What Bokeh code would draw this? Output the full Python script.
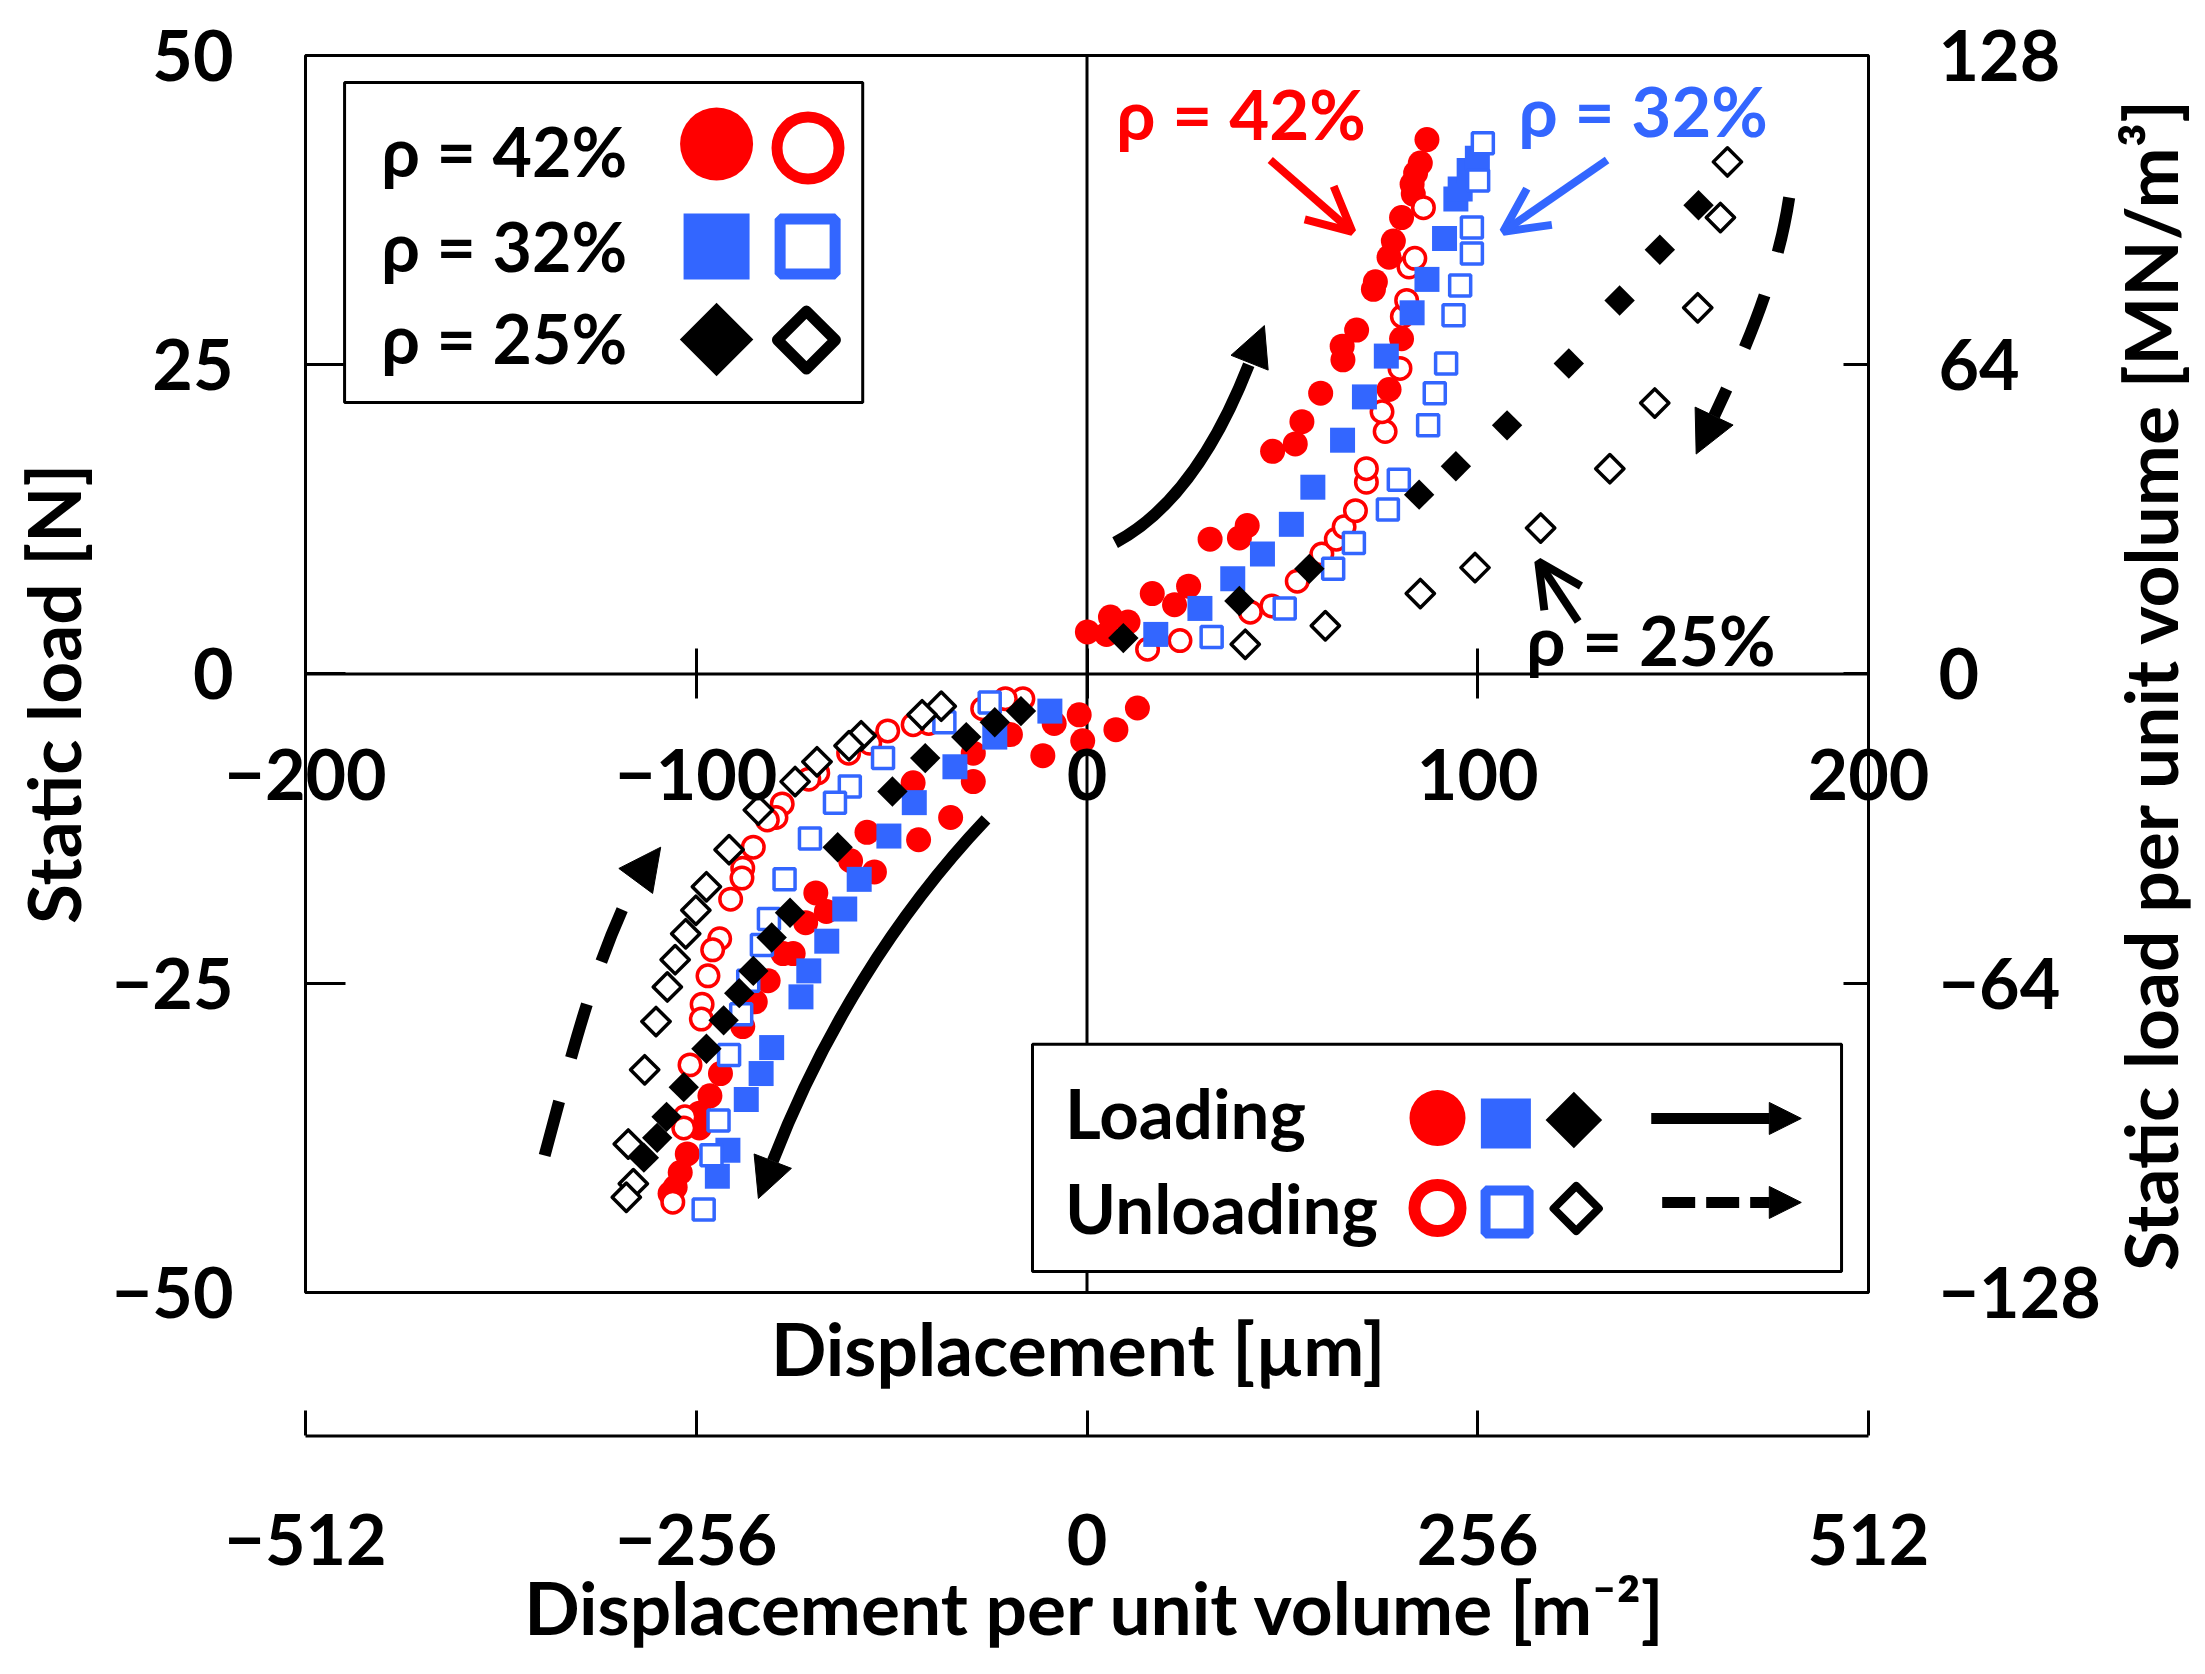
import numpy as np
from bokeh.plotting import figure
from bokeh.models import (Range1d, LinearAxis, FixedTicker, CustomJSTickFormatter,
                          BoxAnnotation, Label, Arrow, NormalHead, OpenHead)
from bokeh.embed import file_html
from bokeh.resources import INLINE

# ---------------- data (displacement [um], static load [N]) ----------------
r42_load_x = [0.1, 5.0, 6.0, 10.5, 16.7, 22.4, 26.0, 31.5, 39.0, 41.0,
              47.5, 53.3, 55.0, 59.8, 65.5, 65.3, 69.0, 73.3, 73.8, 77.3,
              80.5, 77.3, 78.4, 80.5, 83.5, 83.2, 84.1, 85.3, 87.0,
              12.9, 7.4, -1.1, -2.0, -11.3, -8.4, -19.6, -29.1, -29.1, -34.9,
              -43.1, -44.5, -56.3, -60.5, -54.4, -69.4, -66.7, -72.0, -75.2, -77.8,
              -81.6, -84.9, -88.1, -93.8, -96.5, -99.2, -99.2, -102.3, -104.1, -105.4,
              -106.7]
r42_load_y = [3.4, 3.2, 4.6, 4.2, 6.5, 5.6, 7.1, 10.9, 11.0, 12.0,
              18.0, 18.6, 20.4, 22.7, 25.4, 26.5, 27.8, 31.1, 31.7, 23.0,
              27.1, 33.7, 35.0, 36.9, 38.8, 39.6, 40.5, 41.3, 43.2,
              -2.75, -4.5, -5.4, -3.3, -6.6, -4.0, -4.9, -6.4, -8.7, -11.6,
              -13.4, -8.8, -12.8, -15.1, -16.0, -17.7, -19.2, -20.1, -22.6, -22.6,
              -24.8, -26.5, -28.5, -32.3, -34.1, -35.5, -36.7, -38.8, -40.3, -41.5,
              -42.0]

r42_unl_x = [15.5, 23.8, 41.8, 47.3, 53.8, 60.1, 63.8, 65.8, 68.7, 71.5,
             71.5, 76.3, 75.5, 80.1, 80.7, 81.8, 82.4, 83.9, 86.1,
             -16.4, -20.9, -26.7, -40.5, -44.5, -51.0, -55.6, -61.0, -68.9, -71.2,
             -78.0, -79.6, -81.8, -85.4, -88.1, -88.3, -91.2, -94.0, -95.8, -97.0,
             -98.5, -98.7, -101.6, -102.9, -103.2, -106.0]
r42_unl_y = [2.0, 2.7, 5.0, 5.5, 7.5, 9.7, 10.9, 11.9, 13.2, 15.5,
             16.6, 19.6, 21.2, 24.7, 28.9, 30.2, 32.9, 33.6, 37.7,
             -2.0, -2.0, -2.8, -4.0, -4.1, -4.6, -5.6, -6.4, -8.0, -8.5,
             -10.5, -11.6, -11.8, -14.0, -15.7, -16.5, -18.2, -21.4, -22.3, -24.4,
             -26.7, -27.9, -31.6, -35.8, -36.7, -42.7]

r32_load_x = [17.6, 28.9, 37.3, 44.9, 52.3, 57.8, 65.4, 71.0, 76.6, 83.2,
              87.0, 91.5, 94.4, 95.5, 97.8, 99.9,
              -9.5, -23.6, -33.8, -44.2, -50.7, -58.3, -62.0, -66.6, -71.2, -73.2,
              -80.7, -83.4, -87.2, -91.9, -94.6]
r32_load_y = [3.2, 5.3, 7.7, 9.7, 12.1, 15.1, 18.9, 22.4, 25.7, 29.2,
              31.9, 35.2, 38.4, 39.2, 40.7, 41.7,
              -3.0, -5.1, -7.5, -10.4, -13.1, -16.6, -19.0, -21.6, -24.0, -26.1,
              -30.2, -32.3, -34.4, -38.5, -40.6]

r32_unl_x = [31.9, 50.6, 63.0, 68.3, 77.0, 79.8, 87.3, 89.0, 91.9, 93.8,
             95.5, 98.5, 98.5, 100.1, 101.3,
             -24.9, -36.5, -52.2, -60.7, -64.5, -70.9, -77.4, -81.4, -83.2, -86.7,
             -88.5, -91.6, -94.3, -96.1, -98.1]
r32_unl_y = [3.0, 5.3, 8.5, 10.6, 13.3, 15.7, 20.1, 22.7, 25.1, 29.0,
             31.4, 34.0, 36.1, 39.9, 42.9,
             -2.3, -3.9, -6.8, -9.1, -10.4, -13.3, -16.6, -19.8, -21.9, -24.8,
             -27.5, -30.8, -36.1, -38.9, -43.3]

r25_load_x = [9.3, 39.0, 56.9, 85.0, 94.4, 107.5, 123.3, 136.3, 146.6, 156.5,
              -16.9, -23.6, -30.9, -41.4, -49.8, -63.8, -76.0, -80.7, -85.4, -89.0,
              -93.0, -97.4, -103.2, -107.6, -110.0, -113.4]
r25_load_y = [2.9, 5.9, 8.5, 14.5, 16.8, 20.1, 25.1, 30.2, 34.3, 37.9,
              -3.0, -3.9, -5.1, -6.8, -9.5, -14.0, -19.3, -21.3, -24.0, -25.8,
              -28.0, -30.3, -33.4, -35.8, -37.5, -39.1]

r25_unl_x = [40.5, 61.0, 85.3, 99.3, 116.1, 133.8, 145.3, 156.3, 162.1, 163.9,
             -37.3, -42.2, -57.8, -60.9, -69.1, -74.7, -84.1, -91.6, -97.4, -100.1,
             -102.7, -105.4, -107.4, -110.3, -113.2, -117.4, -116.1, -117.9]
r25_unl_y = [2.4, 3.9, 6.5, 8.6, 11.8, 16.6, 21.9, 29.6, 36.9, 41.4,
             -2.6, -3.3, -5.0, -5.8, -7.1, -8.7, -11.0, -14.2, -17.2, -19.1,
             -21.0, -23.1, -25.3, -28.1, -32.0, -38.0, -41.2, -42.3]

x_ticks = [-200, -100, 0, 100, 200]            # displacement [um]
y_ticks = [-50, -25, 0, 25, 50]                # static load [N]
x2_ticks = [-512, -256, 0, 256, 512]           # displacement per unit volume [m^-2]
y2_ticks = [-128, -64, 0, 64, 128]             # load per unit volume [MN/m^3]

series_labels = ["ρ = 42%", "ρ = 32%", "ρ = 25%"]

# ---------------- styling ----------------
RED = "#FF0000"
BLUE = "#3366FF"
BLACK = "#000000"
FONT = "Lato"

# the frame covers the whole canvas; the plotted box spans -200..200 um, -50..50 N
XR = (-278.055, 283.94)
YR = (-80.073, 54.446)
SCALE = 2.56      # um -> m^-2 and N -> MN/m^3 factor of the secondary axes
X2_AT = -61.6     # y-position (N) of the secondary x axis line

p = figure(width=2196, height=1664,
           x_range=Range1d(*XR), y_range=Range1d(*YR),
           x_axis_location=None, y_axis_location=None,
           toolbar_location=None, output_backend="svg",
           min_border=0, min_border_left=0, min_border_right=0,
           min_border_top=0, min_border_bottom=0)
p.title.visible = False
p.outline_line_color = None
p.grid.visible = False
p.background_fill_color = "white"
p.border_fill_color = "white"
p.extra_x_ranges = {"vol": Range1d(XR[0] * SCALE, XR[1] * SCALE)}
p.extra_y_ranges = {"vol": Range1d(YR[0] * SCALE, YR[1] * SCALE)}

fmt = CustomJSTickFormatter(code="return tick < 0 ? '\\u2212' + Math.abs(tick) : String(tick);")


def style_axis(ax, standoff, tin, tout):
    ax.formatter = fmt
    ax.major_label_text_font = FONT
    ax.major_label_text_font_style = "bold"
    ax.major_label_text_font_size = "70px"
    ax.major_label_text_color = "black"
    ax.major_label_standoff = standoff
    ax.major_tick_in = tin
    ax.major_tick_out = tout
    ax.major_tick_line_width = 3
    ax.major_tick_line_color = "black"
    ax.minor_tick_line_color = None
    ax.axis_line_color = None


ax_left = LinearAxis(ticker=FixedTicker(ticks=y_ticks), fixed_location=-200)
style_axis(ax_left, 72, 40, 0)
p.add_layout(ax_left, "left")

ax_right = LinearAxis(y_range_name="vol", ticker=FixedTicker(ticks=y2_ticks), fixed_location=200)
style_axis(ax_right, 70, 25, 0)
p.add_layout(ax_right, "right")

ax_um = LinearAxis(ticker=FixedTicker(ticks=x_ticks), fixed_location=0)
style_axis(ax_um, 50, 25, 25)
p.add_layout(ax_um, "below")

ax_vol = LinearAxis(x_range_name="vol", ticker=FixedTicker(ticks=x2_ticks), fixed_location=X2_AT)
style_axis(ax_vol, 78, 25, 0)
p.add_layout(ax_vol, "below")

# plot box, zero lines, secondary axis line
p.add_layout(BoxAnnotation(left=-200, right=200, bottom=-50, top=50,
                           fill_color=None, fill_alpha=0,
                           line_color="black", line_alpha=1, line_width=3))
p.segment(x0=[0, -200, -200], y0=[-50, 0, X2_AT], x1=[0, 200, 200], y1=[50, 0, X2_AT],
          line_color="black", line_width=3)

# ---------------- data markers ----------------
p.scatter(r42_load_x, r42_load_y, marker="circle", size=25,
          fill_color=RED, line_color=None)
p.scatter(r42_unl_x, r42_unl_y, marker="circle", size=21.5,
          fill_color="white", line_color=RED, line_width=3.5)
p.scatter(r32_load_x, r32_load_y, marker="square", size=25,
          fill_color=BLUE, line_color=None)
p.scatter(r32_unl_x, r32_unl_y, marker="square", size=21,
          fill_color="white", line_color=BLUE, line_width=3.5)
p.scatter(r25_load_x, r25_load_y, marker="square", angle=np.pi / 4, size=21.5,
          fill_color=BLACK, line_color=None)
p.scatter(r25_unl_x, r25_unl_y, marker="square", angle=np.pi / 4, size=20,
          fill_color="white", line_color=BLACK, line_width=3.5, line_join="round")


def label(x, y, text, size, color="black", align="left", angle=0.0):
    p.add_layout(Label(x=x, y=y, text=text, angle=angle, text_font=FONT,
                       text_font_style="bold", text_font_size=size, text_color=color,
                       text_align=align, text_baseline="alphabetic"))


# ---------------- legend 1 (densities) ----------------
p.quad(left=[-190.0], right=[-57.4], top=[47.82], bottom=[21.95],
       fill_color="white", line_color="black", line_width=3)
p.scatter([-94.8], [42.84], marker="circle", size=73, fill_color=RED, line_color=None)
p.scatter([-71.4], [42.52], marker="circle", size=62, fill_color="white",
          line_color=RED, line_width=11)
p.scatter([-94.8], [34.56], marker="square", size=66, fill_color=BLUE, line_color=None)
p.scatter([-71.5], [34.56], marker="square", size=55, fill_color="white",
          line_color=BLUE, line_width=11)
p.scatter([-94.8], [27.04], marker="square", angle=np.pi / 4, size=52,
          fill_color=BLACK, line_color=None)
p.scatter([-71.8], [27.0], marker="square", angle=np.pi / 4, size=41,
          fill_color="white", line_color=BLACK, line_width=11, line_join="round")
for txt, yb in zip(series_labels, [42.30, 34.62, 27.18]):
    label(-180.6, yb, txt, "68px")

# ---------------- legend 2 (loading / unloading) ----------------
p.quad(left=[-13.95], right=[193.1], top=[-29.94], bottom=[-48.3],
       fill_color="white", line_color="black", line_width=3)
p.scatter([89.7], [-35.9], marker="circle", size=56, fill_color=RED, line_color=None)
p.scatter([107.2], [-36.34], marker="square", size=50, fill_color=BLUE, line_color=None)
p.scatter([124.6], [-36.06], marker="square", angle=np.pi / 4, size=40,
          fill_color=BLACK, line_color=None)
p.scatter([89.7], [-43.16], marker="circle", size=46, fill_color="white",
          line_color=RED, line_width=12)
p.scatter([107.5], [-43.49], marker="square", size=43, fill_color="white",
          line_color=BLUE, line_width=10)
p.scatter([125.2], [-43.21], marker="square", angle=np.pi / 4, size=32,
          fill_color="white", line_color=BLACK, line_width=8, line_join="round")
label(-5.6, -35.42, "Loading", "69px")
label(-5.6, -43.09, "Unloading", "69px")
p.add_layout(Arrow(x_start=144.4, y_start=-35.93, x_end=182.8, y_end=-35.93,
                   line_color="black", line_width=11,
                   end=NormalHead(size=32, fill_color="black", line_color="black")))
p.add_layout(Arrow(x_start=147.2, y_start=-42.72, x_end=182.8, y_end=-42.72,
                   line_color="black", line_width=11, line_dash="33 11",
                   end=NormalHead(size=32, fill_color="black", line_color="black")))

# ---------------- annotations ----------------
label(7.5, 45.32, series_labels[0], "69px", RED)
label(110.4, 45.56, series_labels[1], "69px", BLUE)
label(112.4, 2.80, series_labels[2], "69px", BLACK)
p.add_layout(Arrow(x_start=46.9, y_start=41.55, x_end=67.9, y_end=35.75, line_color=RED, line_width=8,
                   end=OpenHead(size=44, line_width=8, line_color=RED)))
p.add_layout(Arrow(x_start=133.1, y_start=41.55, x_end=106.5, y_end=35.75, line_color=BLUE, line_width=8,
                   end=OpenHead(size=44, line_width=8, line_color=BLUE)))
p.add_layout(Arrow(x_start=125.7, y_start=4.25, x_end=115.5, y_end=9.1, line_color=BLACK, line_width=8,
                   end=OpenHead(size=44, line_width=8, line_color=BLACK)))

# curved direction arrows (loading = solid, unloading = dashed)
curves = [
    # x0, y0, cx0, cy0, cx1, cy1, x1, y1, tipx, tipy, dash, head
    (7.2, 10.62, 23.9, 13.43, 34.5, 19.43, 41.4, 25.0, 45.4, 28.17, "solid", 40),
    (-25.85, -11.76, -49.45, -19.63, -68.0, -29.26, -80.4, -39.37, -84.1, -42.4, "solid", 40),
    (179.7, 38.52, 176.8, 32.37, 168.9, 26.49, 160.5, 20.86, 155.9, 17.78, "56 45", 42),
    (-138.8, -38.92, -132.3, -31.36, -126.6, -23.67, -115.4, -16.69, -109.1, -14.0, "56 45", 42),
]
for (x0, y0, cx0, cy0, cx1, cy1, x1, y1, tx, ty, dash, hs) in curves:
    p.bezier(x0=[x0], y0=[y0], x1=[x1], y1=[y1], cx0=[cx0], cy0=[cy0], cx1=[cx1], cy1=[cy1],
             line_color="black", line_width=12, line_dash=dash)
    p.add_layout(Arrow(x_start=x1, y_start=y1, x_end=tx, y_end=ty, line_alpha=0,
                       end=NormalHead(size=hs, fill_color="black", line_color="black")))

# ---------------- axis titles ----------------
label(-264.6, -1.6, "Static load [N]", "73px", align="center", angle=np.pi / 2)
label(272.0, -0.8, "Static load per unit volume [MN/m³]", "73px", align="center", angle=np.pi / 2)
label(0.0, -54.5, "Displacement  [µm]", "73px", align="center")
label(2.2, -75.45, "Displacement per unit volume [m⁻²]", "73px", align="center")

with open("out.html", "w", encoding="utf-8") as f:
    f.write(file_html(p, INLINE))
